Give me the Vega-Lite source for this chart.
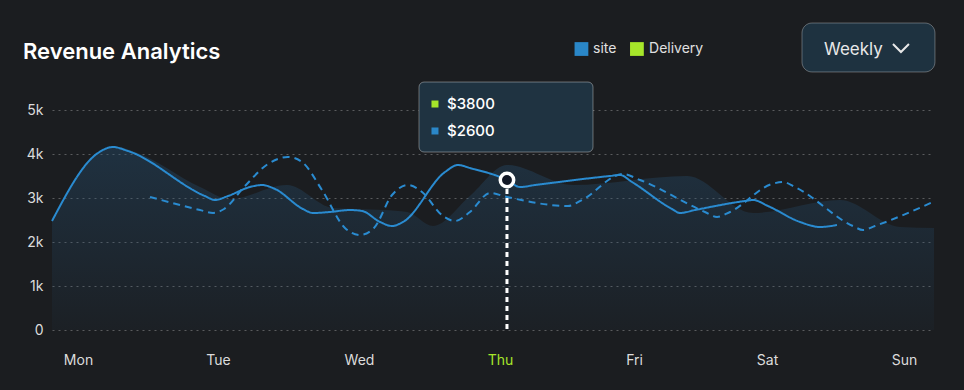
{
  "$schema": "https://vega.github.io/schema/vega-lite/v6.json",
  "width": 882,
  "height": 220,
  "autosize": {"type": "none"},
  "padding": {"left": 52, "top": 110, "right": 30, "bottom": 60},
  "background": "#1b1d20",
  "title": {
    "text": "Revenue Analytics",
    "anchor": "start",
    "frame": "group",
    "fontSize": 22,
    "fontWeight": 600,
    "color": "#ffffff",
    "offset": -58,
    "dx": -29,
    "baseline": "alphabetic"
  },
  "config": {
    "font": "Inter",
    "view": {"stroke": null},
    "axisY": {
      "grid": true,
      "gridColor": "rgba(255,255,255,0.28)",
      "gridDash": [2, 4],
      "gridWidth": 1,
      "domain": false,
      "ticks": false,
      "labelFontSize": 14,
      "labelColor": "#dcdcdc",
      "labelPadding": 9
    },
    "axisX": {
      "grid": false,
      "domain": false,
      "ticks": false,
      "labelFontSize": 14,
      "labelColor": "#dcdcdc",
      "labelPadding": 23,
      "labelFlush": false
    }
  },
  "datasets": {
    "area": [
      {"x": -0.189, "revenue": 2500},
      {"x": 0.145, "revenue": 4020},
      {"x": 0.283, "revenue": 4160},
      {"x": 0.414, "revenue": 4045},
      {"x": 0.886, "revenue": 3250},
      {"x": 1.104, "revenue": 2977},
      {"x": 1.518, "revenue": 3295},
      {"x": 1.852, "revenue": 2773},
      {"x": 2.215, "revenue": 2727},
      {"x": 2.390, "revenue": 2682},
      {"x": 2.579, "revenue": 2364},
      {"x": 2.847, "revenue": 3045},
      {"x": 3.116, "revenue": 3750},
      {"x": 3.596, "revenue": 3295},
      {"x": 4.424, "revenue": 3500},
      {"x": 4.903, "revenue": 2659},
      {"x": 5.535, "revenue": 2955},
      {"x": 5.971, "revenue": 2341},
      {"x": 6.218, "revenue": 2318}
    ],
    "lines": [
      {"series": "site", "x": -0.189, "revenue": 2477},
      {"series": "site", "x": 0.145, "revenue": 4023},
      {"series": "site", "x": 0.254, "revenue": 4159},
      {"series": "site", "x": 0.363, "revenue": 4068},
      {"series": "site", "x": 0.922, "revenue": 3045},
      {"series": "site", "x": 0.995, "revenue": 2955},
      {"series": "site", "x": 1.090, "revenue": 3045},
      {"series": "site", "x": 1.249, "revenue": 3250},
      {"series": "site", "x": 1.337, "revenue": 3295},
      {"series": "site", "x": 1.431, "revenue": 3205},
      {"series": "site", "x": 1.634, "revenue": 2750},
      {"series": "site", "x": 1.707, "revenue": 2659},
      {"series": "site", "x": 1.830, "revenue": 2682},
      {"series": "site", "x": 1.976, "revenue": 2727},
      {"series": "site", "x": 2.063, "revenue": 2705},
      {"series": "site", "x": 2.194, "revenue": 2455},
      {"series": "site", "x": 2.281, "revenue": 2364},
      {"series": "site", "x": 2.361, "revenue": 2455},
      {"series": "site", "x": 2.666, "revenue": 3591},
      {"series": "site", "x": 2.760, "revenue": 3750},
      {"series": "site", "x": 2.847, "revenue": 3682},
      {"series": "site", "x": 3.116, "revenue": 3409},
      {"series": "site", "x": 3.211, "revenue": 3250},
      {"series": "site", "x": 3.320, "revenue": 3295},
      {"series": "site", "x": 3.864, "revenue": 3500},
      {"series": "site", "x": 3.937, "revenue": 3523},
      {"series": "site", "x": 4.024, "revenue": 3364},
      {"series": "site", "x": 4.315, "revenue": 2750},
      {"series": "site", "x": 4.373, "revenue": 2659},
      {"series": "site", "x": 4.482, "revenue": 2727},
      {"series": "site", "x": 4.845, "revenue": 2932},
      {"series": "site", "x": 4.903, "revenue": 2955},
      {"series": "site", "x": 5.012, "revenue": 2818},
      {"series": "site", "x": 5.245, "revenue": 2455},
      {"series": "site", "x": 5.390, "revenue": 2341},
      {"series": "site", "x": 5.513, "revenue": 2386},
      {"series": "Delivery", "x": 0.523, "revenue": 3023},
      {"series": "Delivery", "x": 0.886, "revenue": 2727},
      {"series": "Delivery", "x": 0.981, "revenue": 2659},
      {"series": "Delivery", "x": 1.061, "revenue": 2750},
      {"series": "Delivery", "x": 1.213, "revenue": 3273},
      {"series": "Delivery", "x": 1.380, "revenue": 3773},
      {"series": "Delivery", "x": 1.525, "revenue": 3932},
      {"series": "Delivery", "x": 1.627, "revenue": 3818},
      {"series": "Delivery", "x": 1.772, "revenue": 3182},
      {"series": "Delivery", "x": 1.939, "revenue": 2318},
      {"series": "Delivery", "x": 2.048, "revenue": 2159},
      {"series": "Delivery", "x": 2.150, "revenue": 2318},
      {"series": "Delivery", "x": 2.281, "revenue": 3068},
      {"series": "Delivery", "x": 2.397, "revenue": 3295},
      {"series": "Delivery", "x": 2.499, "revenue": 3136},
      {"series": "Delivery", "x": 2.651, "revenue": 2591},
      {"series": "Delivery", "x": 2.738, "revenue": 2477},
      {"series": "Delivery", "x": 2.847, "revenue": 2682},
      {"series": "Delivery", "x": 2.993, "revenue": 3114},
      {"series": "Delivery", "x": 3.116, "revenue": 3023},
      {"series": "Delivery", "x": 3.559, "revenue": 2818},
      {"series": "Delivery", "x": 3.661, "revenue": 2955},
      {"series": "Delivery", "x": 3.959, "revenue": 3545},
      {"series": "Delivery", "x": 4.082, "revenue": 3409},
      {"series": "Delivery", "x": 4.554, "revenue": 2682},
      {"series": "Delivery", "x": 4.642, "revenue": 2568},
      {"series": "Delivery", "x": 4.736, "revenue": 2682},
      {"series": "Delivery", "x": 5.041, "revenue": 3318},
      {"series": "Delivery", "x": 5.121, "revenue": 3364},
      {"series": "Delivery", "x": 5.208, "revenue": 3250},
      {"series": "Delivery", "x": 5.629, "revenue": 2364},
      {"series": "Delivery", "x": 5.702, "revenue": 2273},
      {"series": "Delivery", "x": 5.789, "revenue": 2364},
      {"series": "Delivery", "x": 6.210, "revenue": 2909}
    ],
    "marker": [{"x": 3.116, "revenue": 3409, "base": 0}],
    "tipBox": [{"x": 2.477, "x2": 3.741, "revenue": 5636, "revenue2": 4045}],
    "tipItems": [
      {"series": "Delivery", "label": "$3800", "x": 2.593, "tx": 2.680, "revenue": 5136},
      {"series": "site", "label": "$2600", "x": 2.593, "tx": 2.680, "revenue": 4523}
    ],
    "legendItems": [
      {"series": "site", "label": "site", "x": 3.657, "tx": 3.741, "revenue": 6386},
      {"series": "Delivery", "label": "Delivery", "x": 4.060, "tx": 4.148, "revenue": 6386}
    ],
    "dropBox": [{"x": 5.259, "x2": 6.225, "revenue": 6977, "revenue2": 5864, "label": "Weekly", "tx": 5.419, "ty": 6364}],
    "chevron": [
      {"x": 5.920, "revenue": 6500},
      {"x": 5.978, "revenue": 6318},
      {"x": 6.036, "revenue": 6500}
    ]
  },
  "layer": [
    {
      "data": {"name": "area"},
      "mark": {
        "type": "area",
        "interpolate": "monotone",
        "color": {
          "gradient": "linear",
          "x1": 0, "y1": 0, "x2": 0, "y2": 1,
          "stops": [
            {"offset": 0, "color": "rgba(38,82,118,0.38)"},
            {"offset": 1, "color": "rgba(38,82,118,0.06)"}
          ]
        }
      },
      "encoding": {
        "x": {
          "field": "x", "type": "quantitative", "title": null,
          "scale": {"domain": [-0.189, 6.218], "nice": false, "zero": false},
          "axis": {
            "values": [0, 1.017, 2.041, 3.065, 4.039, 5.005, 6],
            "labelExpr": "['Mon','Tue','Wed','Thu','Fri','Sat','Sun'][round(datum.value)]",
            "labelColor": {"condition": {"test": "round(datum.value) == 3", "value": "#a6e62a"}, "value": "#dcdcdc"}
          }
        },
        "y": {
          "field": "revenue", "type": "quantitative", "title": null,
          "scale": {"domain": [0, 5000], "nice": false, "zero": true},
          "axis": {
            "values": [0, 1000, 2000, 3000, 4000, 5000],
            "labelExpr": "datum.value == 0 ? '0' : (datum.value / 1000) + 'k'"
          }
        }
      }
    },
    {
      "data": {"name": "lines"},
      "mark": {"type": "line", "interpolate": "monotone", "strokeWidth": 2, "color": "#2a8bd0"},
      "encoding": {
        "x": {"field": "x", "type": "quantitative", "title": null, "scale": {"domain": [-0.189, 6.218], "nice": false, "zero": false}},
        "y": {"field": "revenue", "type": "quantitative", "title": null, "scale": {"domain": [0, 5000], "nice": false, "zero": true}},
        "strokeDash": {
          "field": "series", "type": "nominal",
          "scale": {"domain": ["site", "Delivery"], "range": [[1, 0], [7, 5]]},
          "legend": null
        }
      }
    },
    {
      "data": {"name": "marker"},
      "mark": {"type": "rule", "color": "#ffffff", "strokeWidth": 3, "strokeDash": [5, 4]},
      "encoding": {
        "x": {"field": "x", "type": "quantitative", "title": null, "scale": {"domain": [-0.189, 6.218], "nice": false, "zero": false}},
        "y": {"field": "revenue", "type": "quantitative", "title": null, "scale": {"domain": [0, 5000], "nice": false, "zero": true}},
        "y2": {"field": "base"}
      }
    },
    {
      "data": {"name": "marker"},
      "mark": {"type": "point", "shape": "circle", "filled": true, "fill": "#121826", "stroke": "#ffffff", "strokeWidth": 3.5, "size": 180, "opacity": 1},
      "encoding": {
        "x": {"field": "x", "type": "quantitative", "title": null, "scale": {"domain": [-0.189, 6.218], "nice": false, "zero": false}},
        "y": {"field": "revenue", "type": "quantitative", "title": null, "scale": {"domain": [0, 5000], "nice": false, "zero": true}}
      }
    },
    {
      "data": {"name": "tipBox"},
      "mark": {"type": "rect", "fill": "#1f3341", "stroke": "rgba(255,255,255,0.35)", "strokeWidth": 1, "cornerRadius": 5},
      "encoding": {
        "x": {"field": "x", "type": "quantitative", "title": null, "scale": {"domain": [-0.189, 6.218], "nice": false, "zero": false}},
        "x2": {"field": "x2"},
        "y": {"field": "revenue", "type": "quantitative", "title": null, "scale": {"domain": [0, 5000], "nice": false, "zero": true}},
        "y2": {"field": "revenue2"}
      }
    },
    {
      "data": {"name": "tipItems"},
      "mark": {"type": "square", "size": 49, "filled": true, "opacity": 1},
      "encoding": {
        "x": {"field": "x", "type": "quantitative", "title": null, "scale": {"domain": [-0.189, 6.218], "nice": false, "zero": false}},
        "y": {"field": "revenue", "type": "quantitative", "title": null, "scale": {"domain": [0, 5000], "nice": false, "zero": true}},
        "color": {
          "field": "series", "type": "nominal",
          "scale": {"domain": ["site", "Delivery"], "range": ["#2a87c8", "#a6e62a"]},
          "legend": null
        }
      }
    },
    {
      "data": {"name": "tipItems"},
      "mark": {"type": "text", "align": "left", "baseline": "middle", "fontSize": 15, "fontWeight": 500, "color": "#ffffff"},
      "encoding": {
        "x": {"field": "tx", "type": "quantitative", "title": null, "scale": {"domain": [-0.189, 6.218], "nice": false, "zero": false}},
        "y": {"field": "revenue", "type": "quantitative", "title": null, "scale": {"domain": [0, 5000], "nice": false, "zero": true}},
        "text": {"field": "label"}
      }
    },
    {
      "data": {"name": "legendItems"},
      "mark": {"type": "square", "size": 190, "filled": true, "opacity": 1},
      "encoding": {
        "x": {"field": "x", "type": "quantitative", "title": null, "scale": {"domain": [-0.189, 6.218], "nice": false, "zero": false}},
        "y": {"field": "revenue", "type": "quantitative", "title": null, "scale": {"domain": [0, 5000], "nice": false, "zero": true}},
        "color": {
          "field": "series", "type": "nominal",
          "scale": {"domain": ["site", "Delivery"], "range": ["#2a87c8", "#a6e62a"]},
          "legend": null
        }
      }
    },
    {
      "data": {"name": "legendItems"},
      "mark": {"type": "text", "align": "left", "baseline": "middle", "fontSize": 14, "color": "#e0e0e0"},
      "encoding": {
        "x": {"field": "tx", "type": "quantitative", "title": null, "scale": {"domain": [-0.189, 6.218], "nice": false, "zero": false}},
        "y": {"field": "revenue", "type": "quantitative", "title": null, "scale": {"domain": [0, 5000], "nice": false, "zero": true}},
        "text": {"field": "label"}
      }
    },
    {
      "data": {"name": "dropBox"},
      "mark": {"type": "rect", "fill": "#1e3240", "stroke": "rgba(255,255,255,0.3)", "strokeWidth": 1, "cornerRadius": 10},
      "encoding": {
        "x": {"field": "x", "type": "quantitative", "title": null, "scale": {"domain": [-0.189, 6.218], "nice": false, "zero": false}},
        "x2": {"field": "x2"},
        "y": {"field": "revenue", "type": "quantitative", "title": null, "scale": {"domain": [0, 5000], "nice": false, "zero": true}},
        "y2": {"field": "revenue2"}
      }
    },
    {
      "data": {"name": "dropBox"},
      "mark": {"type": "text", "align": "left", "baseline": "middle", "fontSize": 17, "color": "#e8e8e8"},
      "encoding": {
        "x": {"field": "tx", "type": "quantitative", "title": null, "scale": {"domain": [-0.189, 6.218], "nice": false, "zero": false}},
        "y": {"field": "ty", "type": "quantitative", "title": null, "scale": {"domain": [0, 5000], "nice": false, "zero": true}},
        "text": {"field": "label"}
      }
    },
    {
      "data": {"name": "chevron"},
      "mark": {"type": "line", "color": "#e8e8e8", "strokeWidth": 2},
      "encoding": {
        "x": {"field": "x", "type": "quantitative", "title": null, "scale": {"domain": [-0.189, 6.218], "nice": false, "zero": false}},
        "y": {"field": "revenue", "type": "quantitative", "title": null, "scale": {"domain": [0, 5000], "nice": false, "zero": true}}
      }
    }
  ]
}
